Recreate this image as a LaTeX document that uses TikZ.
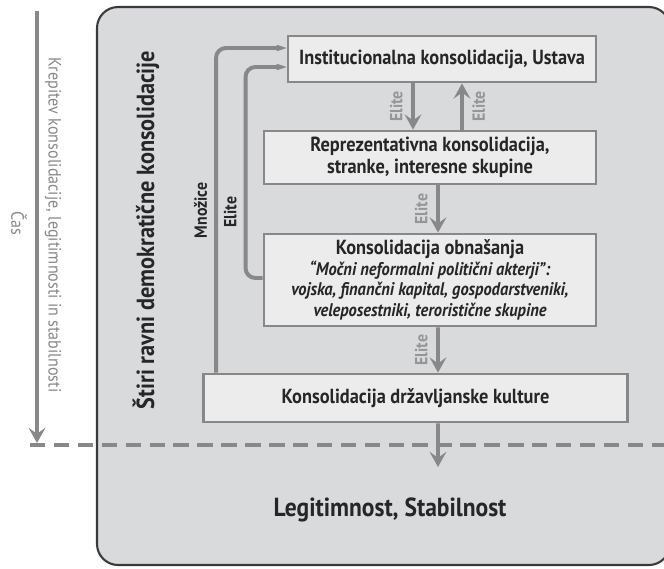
\documentclass[tikz,border=0pt]{standalone}
\usepackage{fontspec}
\setmainfont{PT Sans}[FakeStretch=0.9]
\usepackage{tikz}
\usetikzlibrary{arrows.meta,calc}
\definecolor{framegray}{RGB}{58,58,60}
\definecolor{panelgray}{RGB}{217,218,220}
\definecolor{boxgray}{RGB}{236,236,237}
\definecolor{linegray}{RGB}{136,136,138}
\definecolor{labelgray}{RGB}{150,150,152}
\definecolor{textdark}{RGB}{38,38,40}

\begin{document}
\begin{tikzpicture}[x=0.025cm,y=-0.025cm,
  level/.style={rectangle,draw=linegray,line width=2pt,fill=boxgray,align=center,text=textdark,inner sep=2pt,font=\fontsize{14.5}{15.6}\selectfont\bfseries},
  flow/.style={draw=linegray,line width=2.8pt,-{Stealth[length=3.8mm,width=4.2mm,inset=1.5mm]}},
  feed/.style={draw=linegray,line width=2.8pt,rounded corners=7pt,-{Stealth[length=5.4mm,width=3.6mm,inset=3.6mm]}},
  elite/.style={rotate=90,text=labelgray,inner sep=6pt,font=\fontsize{12.5}{14}\selectfont\bfseries},
  side/.style={rotate=90,text=textdark,inner sep=5pt,font=\fontsize{12.5}{14}\selectfont\bfseries},
  time/.style={rotate=-90,text=linegray,font=\fontsize{12.7}{14}\selectfont},
  sep/.style={draw=linegray,line width=2.8pt,dash pattern=on 11pt off 6pt}
]
\useasboundingbox (0,0) rectangle (664,568);
\clip (0,0) rectangle (664,568);
\draw[framegray,line width=1.5pt,fill=panelgray,rounded corners=15pt] (97,7) rectangle (670,565);
\draw[sep] (30,445) -- (664,445);
% time axis
\coordinate (t0) at (37,11); \coordinate (t1) at (37,443);
\draw[flow] (t0) -- (t1);
\node[time] (krep) at (53,225) {Krepitev konsolidacije, legitimnosti in stabilnosti};
\node[time] (cas) at (19,223) {Čas};
\node[rotate=90,text=textdark,font=\fontsize{17.6}{20}\selectfont\bfseries] (ravni) at (146,230) {Štiri ravni demokratične konsolidacije};
% four levels
\node[level,minimum width=7.7cm,minimum height=1.15cm] (b1) at (442,59) {Institucionalna konsolidacija, Ustava};
\node[level,minimum width=8.3cm,minimum height=1.325cm] (b2) at (430,157.5) {Reprezentativna konsolidacija,\\stranke, interesne skupine};
\node[level,minimum width=8.3cm,minimum height=2.3cm,font=\fontsize{14.5}{14.7}\selectfont\bfseries] (b3) at (430,280) {Konsolidacija obnašanja\\\fontsize{13}{14.7}\selectfont\itshape “Močni neformalni politični akterji”:\\\fontsize{13}{14.7}\selectfont\itshape vojska, finančni kapital, gospodarstveniki,\\\fontsize{13}{14.7}\selectfont\itshape veleposestniki, teroristične skupine};
\node[level,minimum width=10.6cm,minimum height=1.2cm] (b4) at (415.5,398) {Konsolidacija državljanske kulture};
\node[text=textdark,font=\fontsize{18.6}{21}\selectfont\bfseries] (legit) at (390,510) {Legitimnost, Stabilnost};
\coordinate (res) at (438,467);
% arrows
\draw[flow] ($(b1.south)+(-29,0)$) -- node[elite,midway,anchor=south]{Elite} ($(b2.north)+(-17,0)$);
\draw[flow] ($(b2.north)+(32,0)$) -- node[elite,midway,anchor=north]{Elite} ($(b1.south)+(20,0)$);
\draw[flow] ($(b2.south)+(8,0)$) -- node[elite,midway,anchor=south]{Elite} ($(b3.north)+(8,0)$);
\draw[flow] ($(b3.south)+(8,0)$) -- node[elite,midway,anchor=south]{Elite} ($(b4.north)+(22.5,0)$);
\draw[flow] ($(b4.south)+(22.5,0)$) -- (res);
\draw[feed] ($(b4.north west)+(14,0)$) |- node[side,pos=0.25,anchor=south]{Množice} ($(b1.west)+(0,-11)$);
\draw[feed] ($(b3.west)+(0,-2)$) -- ++(-17,0) |- node[side,pos=0.156,anchor=south]{Elite} ($(b1.west)+(0,8)$);
\end{tikzpicture}
\end{document}
